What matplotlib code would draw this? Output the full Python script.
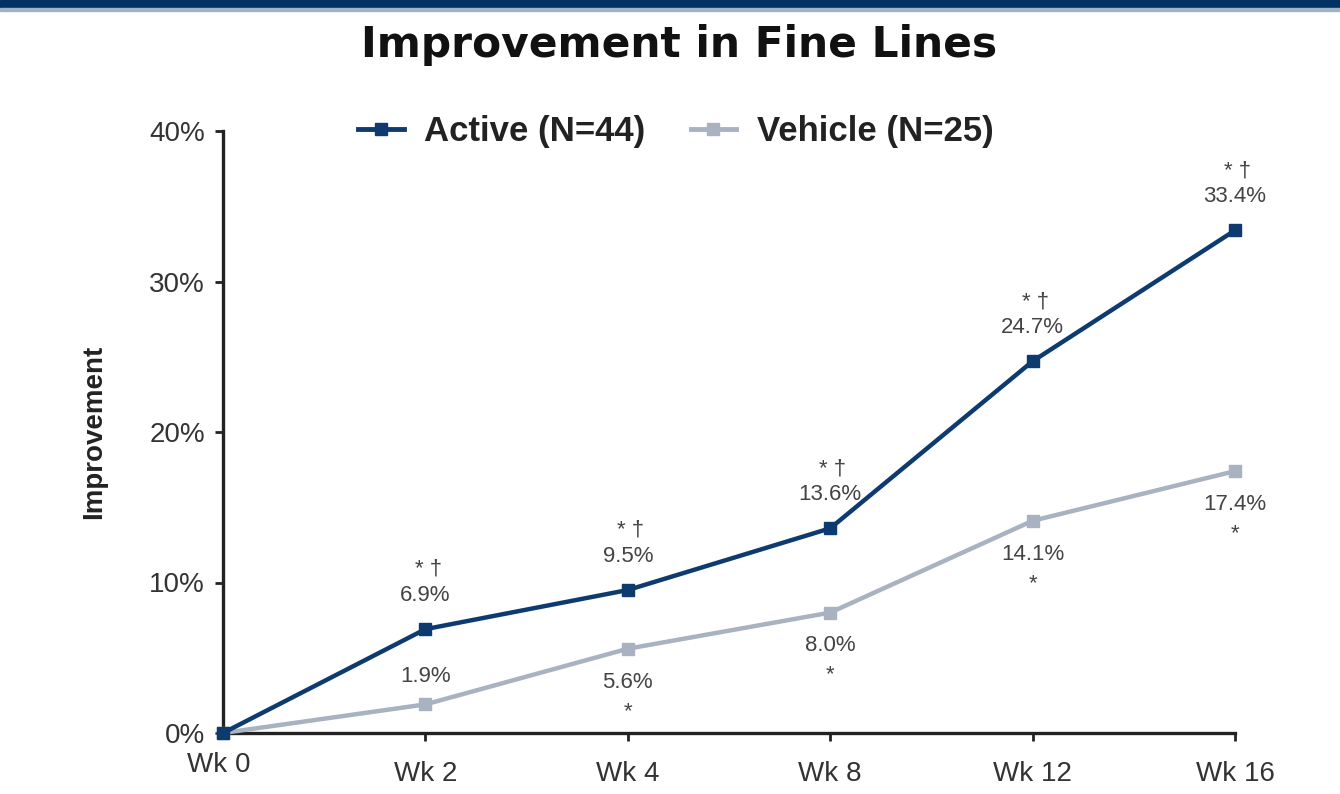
import matplotlib.pyplot as plt
from matplotlib.lines import Line2D
from matplotlib.patches import Rectangle

# ---------------------------------------------------------------- data ----
weeks = ["Wk 0", "Wk 2", "Wk 4", "Wk 8", "Wk 12", "Wk 16"]
active = [0.0, 6.9, 9.5, 13.6, 24.7, 33.4]
vehicle = [0.0, 1.9, 5.6, 8.0, 14.1, 17.4]
active_sig = ["", "* \u2020", "* \u2020", "* \u2020", "* \u2020", "* \u2020"]
vehicle_sig = ["", "", "*", "*", "*", "*"]
yticks = [0, 10, 20, 30, 40]

# ---------------------------------------------------------------- style ----
NAVY = "#0D3B70"
GRAY = "#A9B2C0"
TEXT = "#333333"
LABEL = "#444444"
plt.rcParams["font.family"] = ["Liberation Sans", "DejaVu Sans"]

fig = plt.figure(figsize=(13.4, 7.94), dpi=100)
fig.patches.append(Rectangle((0, 1 - 8 / 794), 1, 8 / 794, transform=fig.transFigure,
                             color="#003263", zorder=0))
fig.patches.append(Rectangle((0, 1 - 11 / 794), 1, 3 / 794, transform=fig.transFigure,
                             color="#9FB3C8", zorder=0))

ax = fig.add_axes([223 / 1340, 1 - 733 / 794, (1235 - 223) / 1340, (733 - 131) / 794])
x = list(range(len(weeks)))

ax.plot(x, vehicle, color=GRAY, lw=3.2, marker="s", ms=8, clip_on=False, zorder=3)
ax.plot(x, active, color=NAVY, lw=3.2, marker="s", ms=8, clip_on=False, zorder=4)

for i in x[1:]:
    ax.annotate(f"{active[i]:.1f}%", (i, active[i]), xytext=(0, 24), textcoords="offset points",
                ha="center", va="center", fontsize=16, color=LABEL)
    ax.annotate(active_sig[i], (i, active[i]), xytext=(2, 43), textcoords="offset points",
                ha="center", va="center", fontsize=16, color=LABEL)
    if i == 1:
        ax.annotate(f"{vehicle[i]:.1f}%", (i, vehicle[i]), xytext=(0, 20),
                    textcoords="offset points", ha="center", va="center",
                    fontsize=16, color=LABEL)
    else:
        ax.annotate(f"{vehicle[i]:.1f}%", (i, vehicle[i]), xytext=(0, -24),
                    textcoords="offset points", ha="center", va="center",
                    fontsize=16, color=LABEL)
        ax.annotate(vehicle_sig[i], (i, vehicle[i]), xytext=(0, -45),
                    textcoords="offset points", ha="center", va="center",
                    fontsize=16, color=LABEL)

ax.set_xlim(0, len(weeks) - 1)
ax.set_ylim(0, 40)
ax.set_yticks(yticks)
ax.set_yticklabels([f"{v}%" for v in yticks])
ax.set_xticks(x[1:])
ax.set_xticklabels(weeks[1:])
ax.text(-0.02, -2.15, weeks[0], ha="center", va="center", fontsize=20, color=TEXT)

for s in ("top", "right"):
    ax.spines[s].set_visible(False)
for s in ("left", "bottom"):
    ax.spines[s].set_linewidth(2.4)
    ax.spines[s].set_color("#222222")
ax.tick_params(axis="both", direction="out", length=6, width=2, color="#222222",
               labelsize=20, labelcolor=TEXT)
ax.tick_params(axis="x", pad=14)
ax.tick_params(axis="y", pad=7)

ax.set_ylabel("Improvement", fontsize=20, fontweight="bold", color="#222222", labelpad=30)

fig.text(679 / 1340, 1 - 45 / 794, "Improvement in Fine Lines", ha="center", va="center",
         fontsize=30.5, fontweight="bold", color="#111111", family="DejaVu Sans")

handles = [Line2D([], [], color=NAVY, lw=3.5, marker="s", ms=8),
           Line2D([], [], color=GRAY, lw=3.5, marker="s", ms=8)]
fig.legend(handles, ["Active (N=44)", "Vehicle (N=25)"], loc="center",
           bbox_to_anchor=(676 / 1340, 1 - 132 / 794), ncol=2, frameon=False,
           handlelength=1.3, columnspacing=1.3, handletextpad=0.6,
           prop={"size": 25, "weight": "bold"}, labelcolor="#222222")

fig.savefig("out.png", dpi=100)
